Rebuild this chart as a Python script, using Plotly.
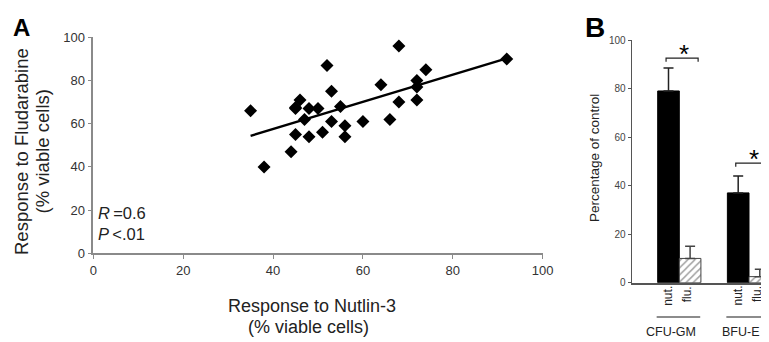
import plotly.graph_objects as go

# ---- Panel A data ----
nutlin = [35, 38, 44, 45, 45, 45, 46, 47, 48, 48, 50, 51, 52, 53, 53, 55, 56, 56, 60, 64, 66, 68, 68, 72, 72, 72, 74, 92]
fludara = [66, 40, 47, 67.5, 55, 67, 71, 62, 67, 54, 67, 56, 87, 75, 61, 68, 59, 54, 61, 78, 62, 96, 70, 80, 77, 71, 85, 90]
fit_x = [35, 92]
fit_y = [54.4, 90.2]
ticks_a = [0, 20, 40, 60, 80, 100]

# ---- Panel B data ----
groups = ["CFU-GM", "BFU-E"]
nut_vals = [79, 37]
nut_err = [9.5, 7]
flu_vals = [10, 2.5]
flu_err = [5, 3]
ticks_b = [0, 20, 40, 60, 80, 100]
sig_y = [92.5, 49.3]

FONT = "Liberation Sans, Arial, sans-serif"
AX = "#8a8a8a"
TXT = "#222222"

# page body has an 8px margin; figure is sized so it ends at the window edge
OFF = 8
W = 769 - OFF
H = 342 - OFF


def px(p):
    return (p - OFF) / W


def py(p):
    return 1 - (p - OFF) / H


fig = go.Figure()

fig.add_trace(go.Scatter(x=nutlin, y=fludara, mode="markers",
                         marker=dict(symbol="diamond", size=10, color="black"),
                         xaxis="x", yaxis="y", showlegend=False))
fig.add_trace(go.Scatter(x=fit_x, y=fit_y, mode="lines",
                         line=dict(color="black", width=2.4),
                         xaxis="x", yaxis="y", showlegend=False))

fig.add_trace(go.Bar(x=groups, y=nut_vals, name="nut.",
                     marker=dict(color="black", line=dict(color="black", width=1)),
                     error_y=dict(type="data", array=nut_err, arrayminus=[0, 0], symmetric=False,
                                  color="#222", thickness=1.5, width=5),
                     xaxis="x2", yaxis="y2", showlegend=False))
fig.add_trace(go.Bar(x=groups, y=flu_vals, name="flu.",
                     marker=dict(color="white", line=dict(color="#444", width=1),
                                 pattern=dict(shape="/", fgcolor="#444444", bgcolor="white", size=5, solidity=0.3)),
                     error_y=dict(type="data", array=flu_err, arrayminus=[0, 0], symmetric=False,
                                  color="#444", thickness=1.5, width=5),
                     xaxis="x2", yaxis="y2", showlegend=False))

fig.update_layout(
    width=W, height=H, autosize=False,
    margin=dict(l=0, r=0, t=0, b=0, pad=0, autoexpand=False),
    paper_bgcolor="white", plot_bgcolor="white",
    font=dict(family=FONT, color=TXT),
    barmode="group", bargap=0.38, bargroupgap=0,
    xaxis=dict(domain=[px(93.3), px(542.7)], range=[0, 100], tickvals=ticks_a, automargin=False,
               showgrid=False, zeroline=False, showline=True, linecolor=AX, linewidth=1.5,
               ticks="outside", ticklen=4, tickcolor=AX, tickfont=dict(size=13, color="#333"),
               anchor="y"),
    yaxis=dict(domain=[py(253.3), py(37.3)], range=[0, 100], tickvals=ticks_a, automargin=False,
               showgrid=False, zeroline=False, showline=True, linecolor=AX, linewidth=1.5,
               ticks="outside", ticklen=4, tickcolor=AX, tickfont=dict(size=13, color="#333"),
               anchor="x"),
    xaxis2=dict(domain=[px(631.7), 1.0], range=[-0.683, 1.287], showticklabels=False, automargin=False,
                showgrid=False, zeroline=False, showline=True, linecolor="#555", linewidth=1.5,
                ticks="", anchor="y2"),
    yaxis2=dict(domain=[py(282.7), py(40)], range=[0, 100], tickvals=ticks_b, automargin=False,
                showgrid=False, zeroline=False, showline=True, linecolor="#555", linewidth=1.2,
                ticks="outside", ticklen=3, tickcolor="#555", tickfont=dict(size=10, color="#444"),
                anchor="x2"),
)


def note(text, x, y, size, **kw):
    d = dict(text=text, x=px(x), y=py(y), xref="paper", yref="paper", showarrow=False,
             xanchor="center", yanchor="middle", font=dict(size=size, color=kw.pop("color", TXT)))
    d.update(kw)
    return d


ann = [
    note("<b>A</b>", 11, 12, 24, xanchor="left", yanchor="top", color="black"),
    note("<b>B</b>", 583, 10, 28, xanchor="left", yanchor="top", color="black"),
    note("Response to Nutlin-3", 312, 306, 18),
    note("(% viable cells)", 308, 327, 18),
    note("Response to Fludarabine", 21.5, 151.5, 18.5, textangle=-90),
    note("(% viable cells)", 42, 151.5, 18.5, textangle=-90),
    note("<i>R</i>\u2009=0.6<br><i>P</i>\u2009<.01", 96, 223, 16.5, xanchor="left", align="left"),
    note("Percentage of control", 594, 158, 13.5, textangle=-90),
]

shapes = []
for i, g in enumerate(groups):
    ann.append(dict(text="nut.", x=g, y=py(284), xref="x2", yref="paper", xshift=-11.5, xanchor="center",
                    yanchor="top", textangle=-90, showarrow=False, font=dict(size=12, color=TXT)))
    ann.append(dict(text="flu.", x=g, y=py(284), xref="x2", yref="paper", xshift=8, xanchor="center",
                    yanchor="top", textangle=-90, showarrow=False, font=dict(size=12, color=TXT)))
    ann.append(dict(text=g, x=g, y=py(332), xref="x2", yref="paper", xshift=-8, xanchor="center",
                    yanchor="middle", showarrow=False, font=dict(size=12.5, color=TXT)))
    top = sig_y[i]
    ann.append(dict(text="*", x=g, y=top, xref="x2", yref="y2", xshift=5, yshift=4, yanchor="middle",
                    showarrow=False, font=dict(size=26, color="black")))
    shapes.append(dict(type="path", xref="x2", yref="y2",
                       path=f"M {i-0.19},{top-1.5} L {i-0.19},{top} L {i+0.27},{top} L {i+0.27},{top-1.5}",
                       line=dict(color="#222", width=1.2)))
    shapes.append(dict(type="line", xref="x2", yref="paper", x0=i - 0.325, x1=i + 0.3, y0=py(317), y1=py(317),
                       line=dict(color="#666", width=1.3)))

fig.update_layout(annotations=ann, shapes=shapes)

fig.write_html("out.html")
